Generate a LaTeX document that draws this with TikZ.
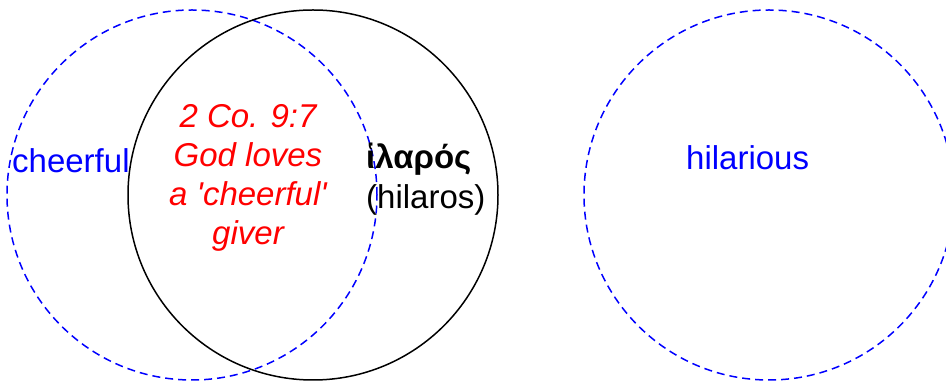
\documentclass[tikz,border=0pt]{standalone}
\usepackage{fontspec}
\setmainfont{Liberation Sans}[Ligatures=TeXOff]
\begin{document}
\begin{tikzpicture}[x=1pt,y=1pt,
  ring/.style={circle,minimum size=370pt,inner sep=0pt,line width=1.5pt},
  dashring/.style={ring,draw={rgb,255:red,0;green,0;blue,255},dash pattern=on 8pt off 5pt},
  solidring/.style={ring,draw=black},
  bluelabel/.style={text={rgb,255:red,0;green,0;blue,255},font=\fontsize{33}{39}\selectfont,inner sep=0pt},
  redlabel/.style={text={rgb,255:red,255;green,0;blue,0},font=\fontsize{33}{39}\selectfont\itshape,align=center,inner sep=0pt},
  blacklabel/.style={text=black,font=\fontsize{33}{40}\selectfont,align=left,inner sep=0pt}]
\useasboundingbox (0,0) rectangle (946,382);
\clip (0,0) rectangle (946,382);
\node[dashring] (cheer) at (192,187) {};
\node[solidring] (hil) at (313,187) {};
\node[dashring] (hilar) at (769,187) {};
\node[bluelabel,anchor=base west] (cheerlbl) at (12,209) {cheerful};
\node[bluelabel,anchor=base west] (hilarlbl) at (686,212) {hilarious};
\node[redlabel] (verse) at (248,204) {2 Co. 9:7\\God loves\\a \textquotesingle cheerful\textquotesingle\\giver};
\node[blacklabel,anchor=west] (greek) at (366,203) {\textbf{ἱλαρός}\\(hilaros)};
\end{tikzpicture}
\end{document}
